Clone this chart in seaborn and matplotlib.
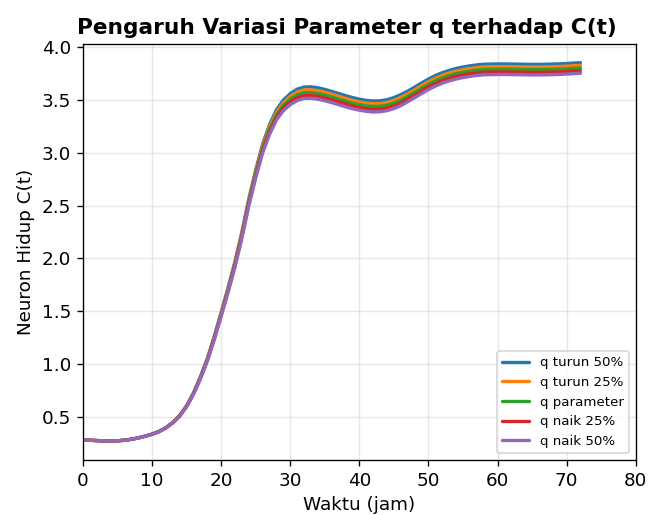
import matplotlib
matplotlib.use("Agg")
import matplotlib.pyplot as plt
import seaborn as sns
import pandas as pd

t = list(range(0, 73))

labels = ["q turun 50%", "q turun 25%", "q parameter", "q naik 25%", "q naik 50%"]

q_turun_50 = [0.280, 0.278, 0.275, 0.272, 0.271, 0.273, 0.278, 0.287, 0.300, 0.316,
              0.336, 0.361, 0.397, 0.448, 0.513, 0.605, 0.727, 0.879, 1.052, 1.260,
              1.488, 1.722, 1.971, 2.250, 2.564, 2.838, 3.082, 3.266, 3.408, 3.500,
              3.562, 3.604, 3.624, 3.626, 3.617, 3.602, 3.583, 3.563, 3.543, 3.525,
              3.509, 3.498, 3.492, 3.494, 3.504, 3.524, 3.552, 3.585, 3.623, 3.662,
              3.700, 3.733, 3.760, 3.782, 3.800, 3.814, 3.825, 3.834, 3.840, 3.842,
              3.843, 3.843, 3.842, 3.841, 3.840, 3.839, 3.839, 3.840, 3.842, 3.844,
              3.847, 3.851, 3.855]
q_turun_25 = [0.280, 0.278, 0.275, 0.272, 0.271, 0.273, 0.278, 0.287, 0.300, 0.316,
              0.335, 0.361, 0.396, 0.446, 0.512, 0.603, 0.724, 0.875, 1.046, 1.253,
              1.479, 1.711, 1.958, 2.235, 2.547, 2.819, 3.061, 3.243, 3.384, 3.475,
              3.536, 3.577, 3.597, 3.599, 3.590, 3.575, 3.557, 3.537, 3.517, 3.499,
              3.483, 3.472, 3.466, 3.468, 3.478, 3.498, 3.526, 3.560, 3.598, 3.637,
              3.675, 3.708, 3.735, 3.757, 3.775, 3.789, 3.800, 3.809, 3.815, 3.817,
              3.818, 3.818, 3.817, 3.816, 3.815, 3.814, 3.814, 3.815, 3.817, 3.819,
              3.822, 3.826, 3.830]
q_param = [0.280, 0.278, 0.275, 0.272, 0.271, 0.273, 0.278, 0.287, 0.300, 0.316,
           0.335, 0.360, 0.395, 0.445, 0.510, 0.600, 0.720, 0.870, 1.040, 1.245,
           1.470, 1.700, 1.945, 2.220, 2.530, 2.800, 3.040, 3.220, 3.360, 3.450,
           3.510, 3.550, 3.570, 3.572, 3.563, 3.548, 3.530, 3.510, 3.490, 3.472,
           3.457, 3.446, 3.440, 3.442, 3.452, 3.472, 3.500, 3.535, 3.573, 3.612,
           3.650, 3.683, 3.710, 3.732, 3.750, 3.764, 3.775, 3.784, 3.790, 3.792,
           3.793, 3.793, 3.792, 3.791, 3.790, 3.789, 3.789, 3.790, 3.792, 3.794,
           3.797, 3.801, 3.805]
q_naik_25 = [0.280, 0.278, 0.275, 0.272, 0.271, 0.273, 0.278, 0.287, 0.300, 0.316,
             0.335, 0.359, 0.394, 0.444, 0.508, 0.598, 0.717, 0.866, 1.034, 1.238,
             1.461, 1.689, 1.932, 2.205, 2.513, 2.781, 3.019, 3.197, 3.336, 3.425,
             3.484, 3.523, 3.543, 3.545, 3.536, 3.521, 3.504, 3.484, 3.464, 3.446,
             3.431, 3.420, 3.414, 3.416, 3.426, 3.446, 3.474, 3.510, 3.548, 3.587,
             3.625, 3.658, 3.685, 3.707, 3.725, 3.739, 3.750, 3.759, 3.765, 3.767,
             3.768, 3.768, 3.767, 3.766, 3.765, 3.764, 3.764, 3.765, 3.767, 3.769,
             3.772, 3.776, 3.780]
q_naik_50 = [0.280, 0.278, 0.275, 0.272, 0.271, 0.273, 0.278, 0.287, 0.300, 0.316,
             0.334, 0.359, 0.393, 0.442, 0.507, 0.595, 0.713, 0.861, 1.028, 1.230,
             1.452, 1.678, 1.919, 2.190, 2.496, 2.762, 2.998, 3.174, 3.312, 3.400,
             3.458, 3.496, 3.516, 3.518, 3.509, 3.494, 3.477, 3.457, 3.437, 3.419,
             3.405, 3.394, 3.388, 3.390, 3.400, 3.420, 3.448, 3.485, 3.523, 3.562,
             3.600, 3.633, 3.660, 3.682, 3.700, 3.714, 3.725, 3.734, 3.740, 3.742,
             3.743, 3.743, 3.742, 3.741, 3.740, 3.739, 3.739, 3.740, 3.742, 3.744,
             3.747, 3.751, 3.755]

series = [q_turun_50, q_turun_25, q_param, q_naik_25, q_naik_50]

rows = []
for lab, vals in zip(labels, series):
    for ti, v in zip(t, vals):
        rows.append({"t": ti, "C": v, "label": lab})
df = pd.DataFrame(rows)

sns.set_style("ticks")
plt.rcParams['font.family'] = ['DejaVu Sans']
plt.rcParams.update({
    "text.color": "black",
    "axes.labelcolor": "black",
    "xtick.color": "black",
    "ytick.color": "black",
    "axes.edgecolor": "black",
})

fig = plt.figure(figsize=(5.4, 515 / 120), dpi=120)
ax = fig.add_axes([0.128, 0.107, 0.853, 0.808])

palette = sns.color_palette("tab10", 5)
sns.lineplot(data=df, x="t", y="C", hue="label", hue_order=labels,
             palette=palette, linewidth=2, ax=ax)

ax.set_xlim(0, 80)
ax.grid(True, alpha=0.3, color="#b0b0b0", linewidth=0.8)
for sp in ax.spines.values():
    sp.set_visible(True)
    sp.set_color("black")
    sp.set_linewidth(0.8)
ax.tick_params(labelsize=11, direction="out", length=3.5, width=0.8, color="black")
ax.set_title("Pengaruh Variasi Parameter q terhadap C(t)", fontsize=13,
             fontweight="bold", x=0.477)
ax.set_xlabel("Waktu (jam)", fontsize=11)
ax.set_ylabel("Neuron Hidup C(t)", fontsize=11)
ax.legend(loc="lower right", fontsize=8, title=None)

fig.savefig("out.png", dpi=120)
